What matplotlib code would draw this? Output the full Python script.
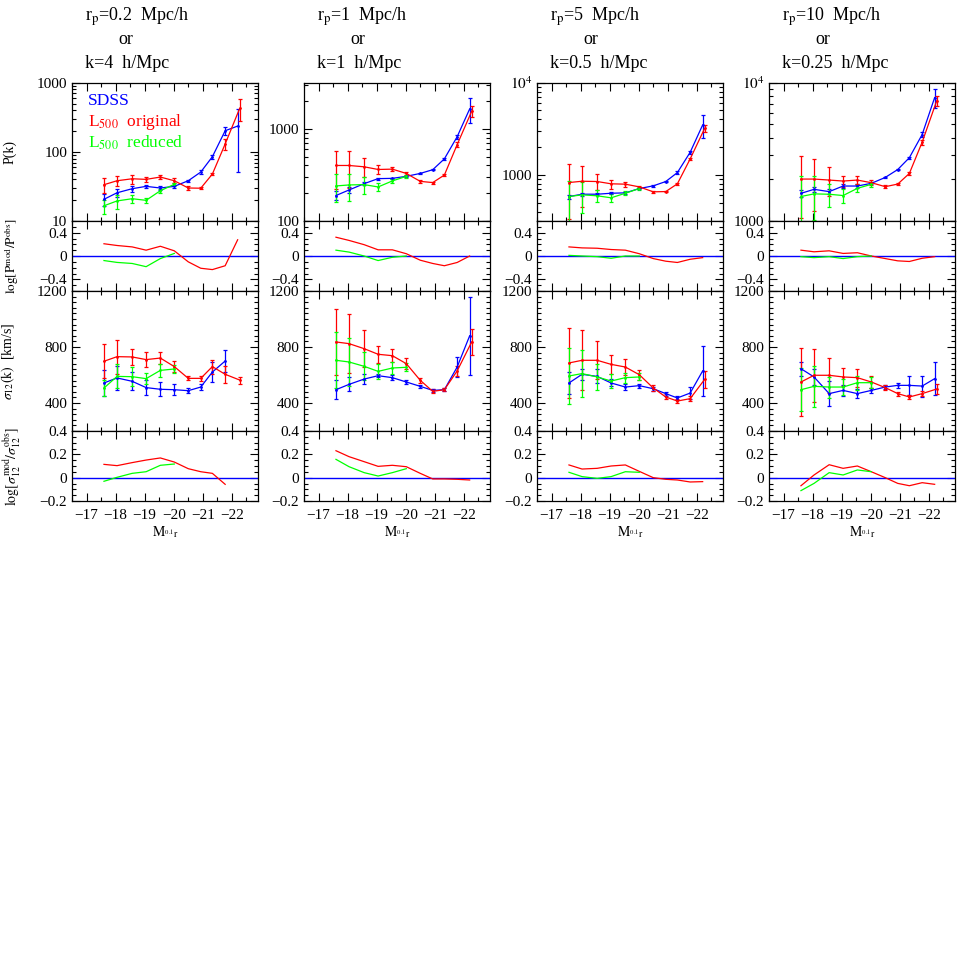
import matplotlib
matplotlib.use('Agg')
import matplotlib.pyplot as plt
from matplotlib.ticker import MultipleLocator, LogLocator, FuncFormatter, NullFormatter

plt.rcParams['font.family'] = ['Liberation Serif', 'DejaVu Serif']
plt.rcParams['mathtext.fontset'] = 'stix'
plt.rcParams['font.size'] = 11

# magnitude bins (SDSS and L500 mocks; last L500 bin slightly offset)
mag_sdss = [-17.6, -18.05, -18.57, -19.05, -19.54, -20.02, -20.5, -20.93, -21.33, -21.77, -22.2]
mag_l500 = [-17.6, -18.05, -18.57, -19.05, -19.54, -20.02, -20.5, -20.93, -21.33, -21.77, -22.27]

title_rp = ['0.2', '1', '5', '10']
title_k = ['4', '1', '0.5', '0.25']

# P(k) per column
pk_sdss = [[20.6, 25.6, 29.3, 31.7, 30.0, 31.7, 38.2, 51, 85, 202, 236],
           [189, 217, 254, 288, 290, 305, 328, 360, 472, 820, 1641],
           [582, 617, 617, 632, 638, 711, 760, 847, 1059, 1758, 3480],
           [1585, 1694, 1631, 1790, 1790, 1871, 2065, 2356, 2870, 4220, 7810]]
pk_sdss_err = [[4, 3, 3, 2, 2, 2, 1.5, 3, 6, 25, 185],
               [22, 15, 10, 8, 6, 6, 5, 5, 12, 45, 500],
               [30, 20, 15, 15, 15, 15, 15, 20, 30, 80, 950],
               [100, 80, 70, 60, 50, 30, 30, 30, 40, 150, 1200]]
pk_orig = [[33.5, 38.2, 40.8, 40.0, 43.2, 38.2, 30.0, 29.8, 47.7, 130, 425],
           [400, 400, 387, 362, 365, 328, 269, 261, 315, 673, 1549],
           [826, 853, 847, 800, 793, 741, 655, 659, 800, 1489, 3200],
           [2010, 2010, 1977, 1945, 1977, 1892, 1771, 1849, 2208, 3715, 7390]]
pk_orig_err = [[8, 6, 6, 3.5, 3, 3, 2, 1, 2, 22, 150],
               [175, 170, 90, 40, 20, 12, 8, 6, 10, 40, 200],
               [490, 400, 170, 90, 50, 25, 12, 10, 20, 50, 250],
               [950, 820, 460, 180, 130, 80, 40, 40, 50, 150, 600]]
pk_redu = [[16.6, 19.5, 21.0, 19.9, 27.4, 33.9],
           [240, 246, 248, 234, 272, 305],
           [582, 607, 593, 564, 632, 711],
           [1503, 1571, 1561, 1528, 1722, 1842]]
pk_redu_err = [[3.8, 4.5, 3, 1.5, 2, 2],
               [80, 80, 50, 25, 15, 12],
               [270, 220, 90, 60, 30, 25],
               [600, 550, 300, 180, 100, 70]]

# log(Pmod/Pobs)
pk_ratio_orig = [[0.21, 0.18, 0.156, 0.10, 0.167, 0.089, -0.10, -0.21, -0.233, -0.167, 0.278],
                 [0.322, 0.267, 0.194, 0.106, 0.106, 0.039, -0.072, -0.128, -0.167, -0.111, 0.0],
                 [0.156, 0.139, 0.133, 0.111, 0.10, 0.039, -0.044, -0.089, -0.111, -0.056, -0.028],
                 [0.10, 0.072, 0.089, 0.044, 0.056, 0.0, -0.044, -0.083, -0.094, -0.039, -0.011]]
pk_ratio_redu = [[-0.078, -0.11, -0.128, -0.183, -0.044, 0.044],
                 [0.10, 0.067, 0.0, -0.078, -0.022, 0.0],
                 [0.011, 0.0, -0.011, -0.039, 0.0, 0.0],
                 [-0.011, -0.028, -0.011, -0.044, -0.011, 0.0]]

# sigma_12(k) in km/s
sig_sdss = [[543, 579, 555, 510, 498, 495, 488, 514, 621, 700],
            [495, 533, 571, 595, 581, 550, 519, 490, 495, 657, 880],
            [543, 605, 590, 543, 514, 524, 502, 467, 436, 471, 629],
            [645, 586, 467, 490, 467, 490, 514, 526, 526, 521, 574]]
sig_sdss_err = [[90, 85, 65, 55, 50, 40, 20, 20, 70, 80],
                [70, 50, 35, 12, 18, 15, 10, 10, 12, 70, 280],
                [80, 40, 50, 25, 20, 15, 15, 15, 15, 45, 180],
                [50, 60, 90, 40, 30, 20, 15, 20, 70, 75, 120]]
sig_orig = [[698, 731, 729, 710, 721, 660, 576, 576, 660, 605, 564],
            [836, 824, 788, 748, 738, 681, 562, 483, 495, 629, 836],
            [686, 705, 705, 676, 657, 602, 507, 443, 414, 431, 569],
            [550, 598, 598, 586, 581, 550, 510, 467, 443, 467, 500]]
sig_orig_err = [[120, 122, 60, 55, 45, 40, 15, 18, 50, 60, 25],
                [235, 210, 133, 62, 48, 40, 20, 15, 12, 35, 90],
                [250, 215, 137, 70, 55, 35, 20, 18, 12, 20, 60],
                [240, 190, 125, 65, 65, 45, 15, 15, 12, 20, 35]]
sig_redu = [[507, 590, 588, 574, 633, 643],
            [705, 693, 662, 626, 650, 655],
            [593, 610, 586, 557, 581, 586],
            [495, 519, 514, 514, 545, 545]]
sig_redu_err = [[60, 85, 70, 40, 45, 30],
                [200, 170, 100, 55, 40, 30],
                [200, 165, 90, 50, 35, 25],
                [155, 145, 75, 60, 50, 40]]

sig_ratio_orig = [[0.114, 0.103, 0.129, 0.151, 0.169, 0.134, 0.077, 0.051, 0.037, -0.057],
                  [0.231, 0.18, 0.137, 0.097, 0.106, 0.094, 0.037, -0.011, -0.011, -0.014, -0.02],
                  [0.109, 0.074, 0.08, 0.1, 0.109, 0.054, 0.0, -0.014, -0.02, -0.037, -0.034],
                  [-0.069, 0.023, 0.111, 0.08, 0.1, 0.051, 0.0, -0.049, -0.069, -0.043, -0.057]]
sig_ratio_redu = [[-0.031, 0.003, 0.037, 0.051, 0.106, 0.117],
                  [0.157, 0.094, 0.043, 0.014, 0.043, 0.077],
                  [0.046, 0.009, -0.006, 0.009, 0.051, 0.046],
                  [-0.111, -0.049, 0.043, 0.023, 0.066, 0.051]]

pk_ylims = [(10, 1000), (100, 3160), (316, 1e4), (1000, 1e4)]

BLUE, RED, GREEN = '#0000ff', '#ff0000', '#00ff00'
W = H = 964.0
col_left = [72, 304, 537, 769]
col_w = 186
# row top/bottom in pixels
rows = [(82.7, 221), (221, 291), (291, 431), (431, 501)]

fig = plt.figure(figsize=(9.64, 9.64), dpi=100)


def style(ax, bottom_labels):
    ax.set_xlim(-16.5, -22.9)
    ax.xaxis.set_major_locator(MultipleLocator(1))
    ax.xaxis.set_minor_locator(MultipleLocator(0.5))
    ax.tick_params(which='both', direction='in', top=True, right=True, width=0.8)
    ax.tick_params(which='major', length=6)
    ax.tick_params(which='minor', length=3)
    ax.tick_params(axis='x', labelbottom=bottom_labels, pad=6)
    for s in ax.spines.values():
        s.set_linewidth(0.9)


def ebar(ax, x, y, e, c):
    ax.errorbar(x[:len(y)], y, yerr=e, color=c, lw=0.9, elinewidth=0.9,
                capsize=1.5, capthick=0.9, marker='.', ms=2)


def logfmt(v, pos):
    if v >= 1e4:
        return r'$10^4$'
    return '%d' % v


def linfmt(v, pos):
    if abs(v) < 1e-9:
        return '0'
    return ('%.1f' % v).replace('-', '\u2212')


for j in range(4):
    axes = []
    for i, (t, b) in enumerate(rows):
        ax = fig.add_axes([col_left[j] / W, 1 - b / H, col_w / W, (b - t) / H])
        style(ax, i == 3)
        axes.append(ax)
    a_pk, a_pr, a_sg, a_sr = axes

    # P(k)
    ebar(a_pk, mag_sdss, pk_sdss[j], pk_sdss_err[j], BLUE)
    ebar(a_pk, mag_l500, pk_orig[j], pk_orig_err[j], RED)
    ebar(a_pk, mag_l500, pk_redu[j], pk_redu_err[j], GREEN)
    a_pk.set_yscale('log')
    a_pk.set_ylim(*pk_ylims[j])
    a_pk.yaxis.set_major_locator(LogLocator(base=10))
    a_pk.yaxis.set_minor_locator(LogLocator(base=10, subs=range(2, 10)))
    a_pk.yaxis.set_major_formatter(FuncFormatter(logfmt))
    a_pk.yaxis.set_minor_formatter(NullFormatter())

    # log P ratio
    a_pr.axhline(0, color=BLUE, lw=1)
    a_pr.plot(mag_sdss[:len(pk_ratio_orig[j])], pk_ratio_orig[j], color=RED, lw=0.9)
    a_pr.plot(mag_sdss[:len(pk_ratio_redu[j])], pk_ratio_redu[j], color=GREEN, lw=0.9)
    a_pr.set_ylim(-0.6, 0.6)
    a_pr.yaxis.set_major_locator(MultipleLocator(0.4))
    a_pr.yaxis.set_minor_locator(MultipleLocator(0.1))
    a_pr.yaxis.set_major_formatter(FuncFormatter(linfmt))

    # sigma_12
    ebar(a_sg, mag_sdss, sig_sdss[j], sig_sdss_err[j], BLUE)
    ebar(a_sg, mag_l500, sig_orig[j], sig_orig_err[j], RED)
    ebar(a_sg, mag_l500, sig_redu[j], sig_redu_err[j], GREEN)
    a_sg.set_ylim(200, 1200)
    a_sg.set_yticks([400, 800, 1200])
    a_sg.yaxis.set_minor_locator(MultipleLocator(40))

    # log sigma ratio
    a_sr.axhline(0, color=BLUE, lw=1)
    a_sr.plot(mag_sdss[:len(sig_ratio_orig[j])], sig_ratio_orig[j], color=RED, lw=0.9)
    a_sr.plot(mag_sdss[:len(sig_ratio_redu[j])], sig_ratio_redu[j], color=GREEN, lw=0.9)
    a_sr.set_ylim(-0.2, 0.4)
    a_sr.set_yticks([-0.2, 0, 0.2, 0.4])
    a_sr.yaxis.set_minor_locator(MultipleLocator(0.05))
    a_sr.yaxis.set_major_formatter(FuncFormatter(linfmt))
    a_sr.set_xlabel(r'$\mathrm{M}_{^{0.1}\mathrm{r}}$', fontsize=10, labelpad=1)

    # column title
    x0 = col_left[j] + 13
    fig.text(x0 / W, 1 - 17 / H, r'r$_\mathrm{p}$=%s  Mpc/h' % title_rp[j],
             ha='left', va='center', fontsize=13)
    fig.text((x0 + 33) / W, 1 - 40 / H, 'or', ha='left', va='center', fontsize=13)
    fig.text(x0 / W, 1 - 63 / H, 'k=%s  h/Mpc' % title_k[j],
             ha='left', va='center', fontsize=13)

    if j == 0:
        a_pk.set_ylabel('P(k)', fontsize=10)
        a_pr.set_ylabel(r'$\log[\mathrm{P^{mod}/P^{obs}}]$', fontsize=9.5)
        a_sg.set_ylabel(r'$\sigma_{12}(\mathrm{k})$  [km/s]', fontsize=10)
        a_sr.set_ylabel(r'$\log[\sigma_{12}^{\mathrm{mod}}/\sigma_{12}^{\mathrm{obs}}]$', fontsize=10)
        for a, xc in [(a_pk, 17), (a_pr, 21), (a_sg, 17), (a_sr, 23)]:
            a.yaxis.set_label_coords((xc - col_left[0]) / col_w, 0.5)
        a_pk.text(0.086, 0.87, 'SDSS', color=BLUE, transform=a_pk.transAxes,
                  va='center', fontsize=12.5)
        a_pk.text(0.086, 0.717, r'L$_{500}$  original', color=RED, transform=a_pk.transAxes,
                  va='center', fontsize=12.5)
        a_pk.text(0.086, 0.565, r'L$_{500}$  reduced', color=GREEN, transform=a_pk.transAxes,
                  va='center', fontsize=12.5)

fig.savefig('out.png', dpi=100)
